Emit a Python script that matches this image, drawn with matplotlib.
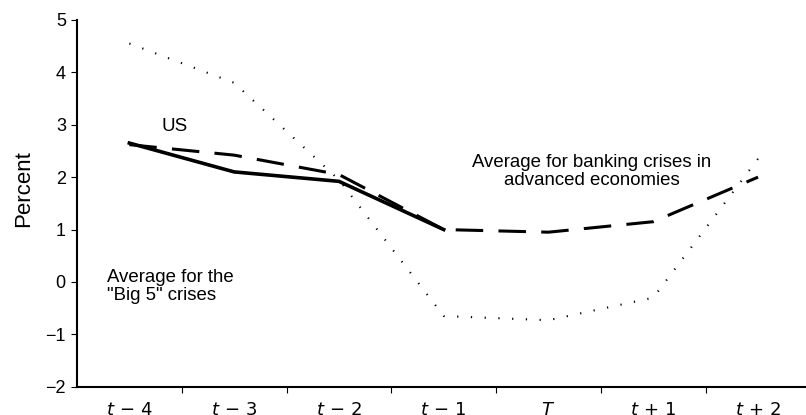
import numpy as np
import matplotlib.pyplot as plt

plt.rcParams['font.family'] = ['Liberation Sans', 'DejaVu Sans']

periods = ['t - 4', 't - 3', 't - 2', 't - 1', 'T', 't + 1', 't + 2']
us = [2.65, 2.1, 1.92, 1.0]
advanced = [2.62, 2.42, 2.05, 1.0, 0.95, 1.15, 2.0]
big5 = [4.55, 3.8, 1.95, -0.65, -0.73, -0.3, 2.35]

x_lbl = [r'$t\,-\,4$', r'$t\,-\,3$', r'$t\,-\,2$', r'$t\,-\,1$', r'$T$', r'$t\,+\,1$', r'$t\,+\,2$']

fig = plt.figure(figsize=(8.06, 4.15), dpi=100)
ax = fig.add_axes([0.0955, 0.068, 0.91, 0.884])

x = np.arange(len(periods))
ax.plot(x, big5, color='black', linestyle=(0, (0.6, 6)), linewidth=1.5)
ax.plot(x, advanced, color='black', linestyle=(0, (9, 5)), linewidth=2.2)
ax.plot(x[:len(us)], us, color='black', linestyle='-', linewidth=2.6)

ax.set_xlim(-0.5, 6.5)
ax.set_ylim(-2, 5)
ax.set_yticks(range(-2, 6))
ax.set_yticklabels([str(v).replace('-', '\u2212') for v in range(-2, 6)], fontsize=13)
ax.set_xticks(np.arange(0.5, 6.5, 1.0))
ax.set_xticklabels([])
ax.set_xticks(x, minor=True)
ax.set_xticklabels(x_lbl, minor=True, fontsize=13)
ax.tick_params(axis='x', which='minor', length=0, pad=11)
ax.tick_params(axis='x', which='major', direction='out', length=4)
ax.tick_params(axis='y', direction='out', length=4, pad=4)
for s in ['top', 'right']:
    ax.spines[s].set_visible(False)
ax.spines['left'].set_linewidth(1.5)
ax.spines['bottom'].set_linewidth(1.5)
ax.set_ylabel('Percent', fontsize=16, labelpad=11)
ax.yaxis.set_label_coords(-0.058, 0.54)

ax.text(0.43, 2.97, 'US', fontsize=13.5, ha='center', va='center')
ax.text(-0.21, -0.08, 'Average for the\n"Big 5" crises', fontsize=13.4, ha='left', va='center', linespacing=1.1)
ax.text(4.41, 2.11, 'Average for banking crises in\nadvanced economies', fontsize=13.4, ha='center', va='center', linespacing=1.1)

fig.savefig('out.png', dpi=100)
